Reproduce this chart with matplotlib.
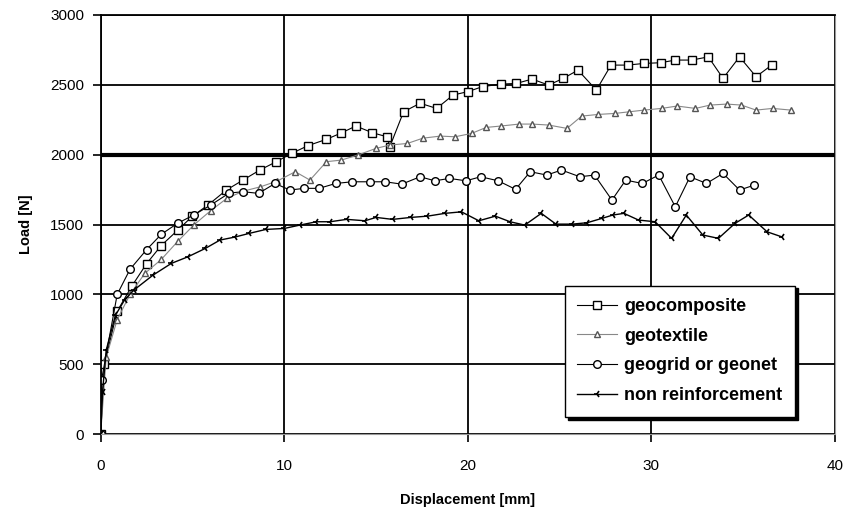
import numpy as np
import matplotlib.pyplot as plt

plt.rcParams['font.family'] = ['Liberation Sans', 'DejaVu Sans']

# geocomposite (squares)
comp_x = [0, 0.2, 0.9, 1.7, 2.5, 3.3, 4.2, 5.0, 5.85, 6.85, 7.75, 8.67, 9.57, 10.4, 11.3, 12.3,
          13.1, 13.9, 14.8, 15.6, 15.75, 16.5, 17.4, 18.3, 19.2, 20.0, 20.8, 21.8, 22.65, 23.5,
          24.4, 25.2, 26.0, 27.0, 27.8, 28.7, 29.6, 30.5, 31.3, 32.2, 33.1, 33.9, 34.8, 35.7, 36.55]
comp_y = [0, 500, 880, 1060, 1220, 1350, 1460, 1560, 1640, 1747, 1818, 1890, 1950, 2009, 2065, 2110,
          2155, 2205, 2157, 2128, 2057, 2307, 2368, 2331, 2427, 2451, 2487, 2505, 2510, 2541,
          2498, 2546, 2605, 2462, 2641, 2641, 2653, 2658, 2677, 2677, 2700, 2546, 2700, 2558, 2641]

# geotextile (triangles)
text_x = [0, 0.3, 0.9, 1.6, 2.4, 3.3, 4.2, 5.1, 6.0, 6.9, 7.8, 8.7, 9.6, 10.6, 11.4, 12.3, 13.1,
          14.0, 15.0, 15.75, 16.7, 17.55, 18.5, 19.3, 20.2, 21.0, 21.8, 22.8, 23.5, 24.4, 25.4,
          26.2, 27.1, 28.0, 28.8, 29.6, 30.55, 31.4, 32.4, 33.2, 34.1, 34.9, 35.7, 36.6, 37.6]
text_y = [0, 550, 820, 1000, 1150, 1250, 1380, 1500, 1600, 1690, 1740, 1770, 1810, 1878, 1818, 1950, 1961,
          1997, 2045, 2069, 2080, 2118, 2133, 2128, 2152, 2195, 2205, 2219, 2219, 2212, 2188,
          2276, 2288, 2295, 2307, 2319, 2331, 2348, 2331, 2355, 2362, 2355, 2319, 2331, 2319]

# geogrid or geonet (circles)
grid_x = [0, 0.05, 0.9, 1.6, 2.5, 3.3, 4.2, 5.1, 6.0, 7.0, 7.75, 8.6, 9.5, 10.3, 11.1, 11.9, 12.8,
          13.7, 14.65, 15.5, 16.4, 17.4, 18.2, 19.0, 19.9, 20.7, 21.65, 22.6, 23.4, 24.3, 25.1,
          26.1, 26.9, 27.85, 28.6, 29.5, 30.4, 31.3, 32.1, 33.0, 33.9, 34.8, 35.6]
grid_y = [0, 390, 1000, 1180, 1320, 1430, 1510, 1570, 1640, 1725, 1735, 1723, 1794, 1747, 1759, 1759, 1794,
          1806, 1806, 1806, 1789, 1842, 1813, 1830, 1813, 1842, 1813, 1752, 1878, 1854, 1890,
          1842, 1854, 1675, 1818, 1794, 1854, 1627, 1842, 1794, 1866, 1747, 1782]

# non reinforcement
none_x = [0, 0.1, 0.3, 0.8, 1.3, 1.8, 2.85, 3.85, 4.75, 5.7, 6.5, 7.3, 8.1, 9.0, 10.0, 10.85, 11.75,
          12.5, 13.4, 14.4, 15.0, 15.9, 16.9, 17.8, 18.75, 19.65, 20.6, 21.5, 22.3, 23.1, 24.0,
          24.8, 25.7, 26.5, 27.3, 27.9, 28.5, 29.3, 30.2, 31.1, 31.9, 32.8, 33.65, 34.55, 35.3,
          36.3, 37.1]
none_y = [0, 300, 600, 850, 960, 1030, 1138, 1222, 1269, 1329, 1389, 1410, 1437, 1465, 1472, 1496, 1520,
          1520, 1537, 1527, 1551, 1537, 1551, 1560, 1580, 1591, 1527, 1560, 1520, 1496, 1580,
          1503, 1503, 1513, 1544, 1568, 1580, 1532, 1520, 1401, 1568, 1425, 1401, 1508, 1568,
          1448, 1412]

fig = plt.figure(figsize=(8.46, 5.15), dpi=100)
ax = fig.add_axes([0.119, 0.157, 0.868, 0.814])

ax.plot(comp_x, comp_y, '-', color='black', lw=0.8, marker='s', ms=5.5, mfc='white', mec='black',
        mew=1.0, label='geocomposite')
ax.plot(text_x, text_y, '-', color='#888888', lw=0.8, marker='^', ms=4.5, mfc='white', mec='#555555',
        mew=1.0, label='geotextile')
ax.plot(grid_x, grid_y, '-', color='black', lw=0.8, marker='o', ms=5.5, mfc='white', mec='black',
        mew=1.0, label='geogrid or geonet')
ax.plot(none_x, none_y, '-', color='black', lw=1.0, marker='3', ms=5, mec='black',
        mew=1.2, label='non reinforcement')

ax.set_xlim(0, 40)
ax.set_ylim(0, 3000)
ax.set_xticks([0, 10, 20, 30, 40])
ax.set_yticks(np.arange(0, 3001, 500))
ax.grid(True, color='black', lw=1.3)
for i, gl in enumerate(ax.get_ygridlines()):
    if i == 4:
        gl.set_linewidth(3)
ax.tick_params(direction='out', length=6, width=1.2, labelsize=11, pad=6)
ax.tick_params(axis='x', pad=12)
for s in ['left', 'top']:
    ax.spines[s].set_linewidth(1.3)
ax.spines['right'].set_color('#999999')
ax.spines['bottom'].set_color('#999999')

ax.set_xlabel('Displacement [mm]', fontweight='bold', fontsize=10.5, labelpad=14)
ax.set_ylabel('Load [N]', fontweight='bold', fontsize=10.5, labelpad=12)

leg = ax.legend(loc='lower right', bbox_to_anchor=(0.958, 0.02), frameon=True, fancybox=False,
                shadow={'color': 'black', 'alpha': 1}, edgecolor='black', fontsize=13,
                handlelength=2.2, handletextpad=0.4, labelspacing=0.7, borderpad=0.7)
leg.get_frame().set_linewidth(1.0)
for t in leg.get_texts():
    t.set_fontweight('bold')

fig.savefig('out.png', dpi=100)
